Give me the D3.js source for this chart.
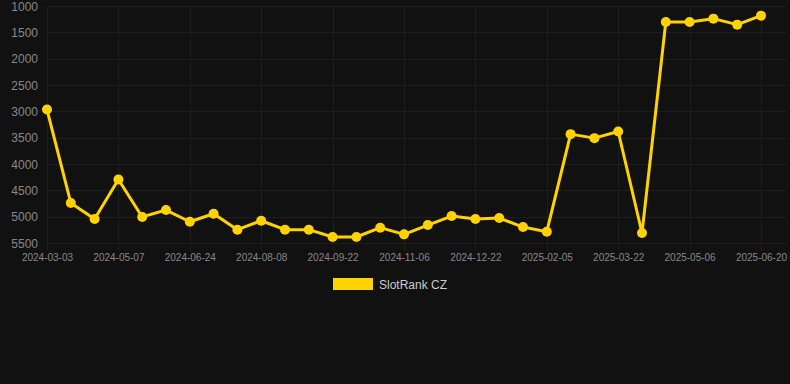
<!doctype html>
<html>
<head>
<meta charset="utf-8">
<title>SlotRank CZ</title>
<script src="https://cdn.jsdelivr.net/npm/d3@7"></script>
<style>
  html, body { margin: 0; padding: 0; background: #111111; }
  body { font-family: "Liberation Sans", Arial, sans-serif; }
  .grid line { stroke: #1e1e1e; stroke-width: 1; }
  .tick-label { fill: #888888; }
</style>
</head>
<body>
<svg id="chart" width="790" height="384"></svg>
<script>
// categories (one per data point); only every third one is labelled on the axis
var dates = [
  "2024-03-03", "2024-03-25", "2024-04-16", "2024-05-07", "2024-05-23", "2024-06-08",
  "2024-06-24", "2024-07-09", "2024-07-24", "2024-08-08", "2024-08-23", "2024-09-07",
  "2024-09-22", "2024-10-07", "2024-10-22", "2024-11-06", "2024-11-21", "2024-12-07",
  "2024-12-22", "2025-01-06", "2025-01-21", "2025-02-05", "2025-02-20", "2025-03-07",
  "2025-03-22", "2025-04-06", "2025-04-21", "2025-05-06", "2025-05-21", "2025-06-05",
  "2025-06-20"
];
var ranks = [
  2966, 4740, 5045, 4293, 5005, 4874,
  5096, 4944, 5247, 5077, 5247, 5247,
  5386, 5386, 5209, 5336, 5159, 4988,
  5045, 5026, 5197, 5285, 3433, 3509,
  3383, 5310, 1303, 1303, 1240, 1354,
  1183
];
var yTicks = [1000, 1500, 2000, 2500, 3000, 3500, 4000, 4500, 5000, 5500];
var seriesName = "SlotRank CZ";

var area = { left: 47, right: 761, top: 6, bottom: 243 };
var svg = d3.select("#chart");

var x = d3.scalePoint().domain(dates).range([area.left, area.right]);
var y = d3.scaleLinear().domain([1000, 5500]).range([area.top, area.bottom]);

// horizontal grid
var hg = svg.append("g").attr("class", "grid");
hg.selectAll("line").data(yTicks).enter().append("line")
  .attr("x1", area.left).attr("x2", 785)
  .attr("y1", function(d) { return Math.round(y(d)) + 0.5; })
  .attr("y2", function(d) { return Math.round(y(d)) + 0.5; });

// vertical grid at labelled categories
var shown = dates.filter(function(d, i) { return i % 3 === 0; });
var vg = svg.append("g").attr("class", "grid");
vg.selectAll("line").data(shown).enter().append("line")
  .attr("x1", function(d) { return Math.round(x(d)) + 0.5; })
  .attr("x2", function(d) { return Math.round(x(d)) + 0.5; })
  .attr("y1", area.top).attr("y2", area.bottom + 8);

// y axis labels
var yAxis = d3.axisLeft(y).tickValues(yTicks).tickSize(0).tickPadding(0).tickFormat(d3.format("d"));
svg.append("g")
  .attr("transform", "translate(38,0)")
  .call(yAxis)
  .call(function(g) {
    g.select(".domain").remove();
    g.selectAll("text").attr("class", "tick-label").attr("font-family", null).attr("font-size", null)
      .style("font-size", "12px").attr("dy", "0.36em");
  });

// x axis labels
var xAxis = d3.axisBottom(x).tickValues(shown).tickSize(0).tickPadding(0);
svg.append("g")
  .attr("transform", "translate(0," + (area.bottom + 11) + ")")
  .call(xAxis)
  .call(function(g) {
    g.select(".domain").remove();
    g.selectAll("text").attr("class", "tick-label").attr("font-family", null).attr("font-size", null)
      .style("font-size", "10px").attr("dy", "0.71em");
  });

// line
var line = d3.line()
  .x(function(d, i) { return x(dates[i]); })
  .y(function(d) { return y(d); });

svg.append("path")
  .datum(ranks)
  .attr("fill", "none")
  .attr("stroke", "#FFD200")
  .attr("stroke-width", 3)
  .attr("stroke-linejoin", "round")
  .attr("d", line);

svg.selectAll(".dot").data(ranks).enter().append("circle")
  .attr("class", "dot")
  .attr("cx", function(d, i) { return x(dates[i]); })
  .attr("cy", function(d) { return y(d); })
  .attr("r", 5)
  .attr("fill", "#FFD200");

// legend
var lg = svg.append("g").attr("transform", "translate(333,278)");
lg.append("rect").attr("width", 40).attr("height", 12).attr("fill", "#FFD200");
lg.append("text").attr("x", 46).attr("y", 10.5)
  .attr("fill", "#CCCCCC").style("font-size", "12px").text(seriesName);
</script>
</body>
</html>
